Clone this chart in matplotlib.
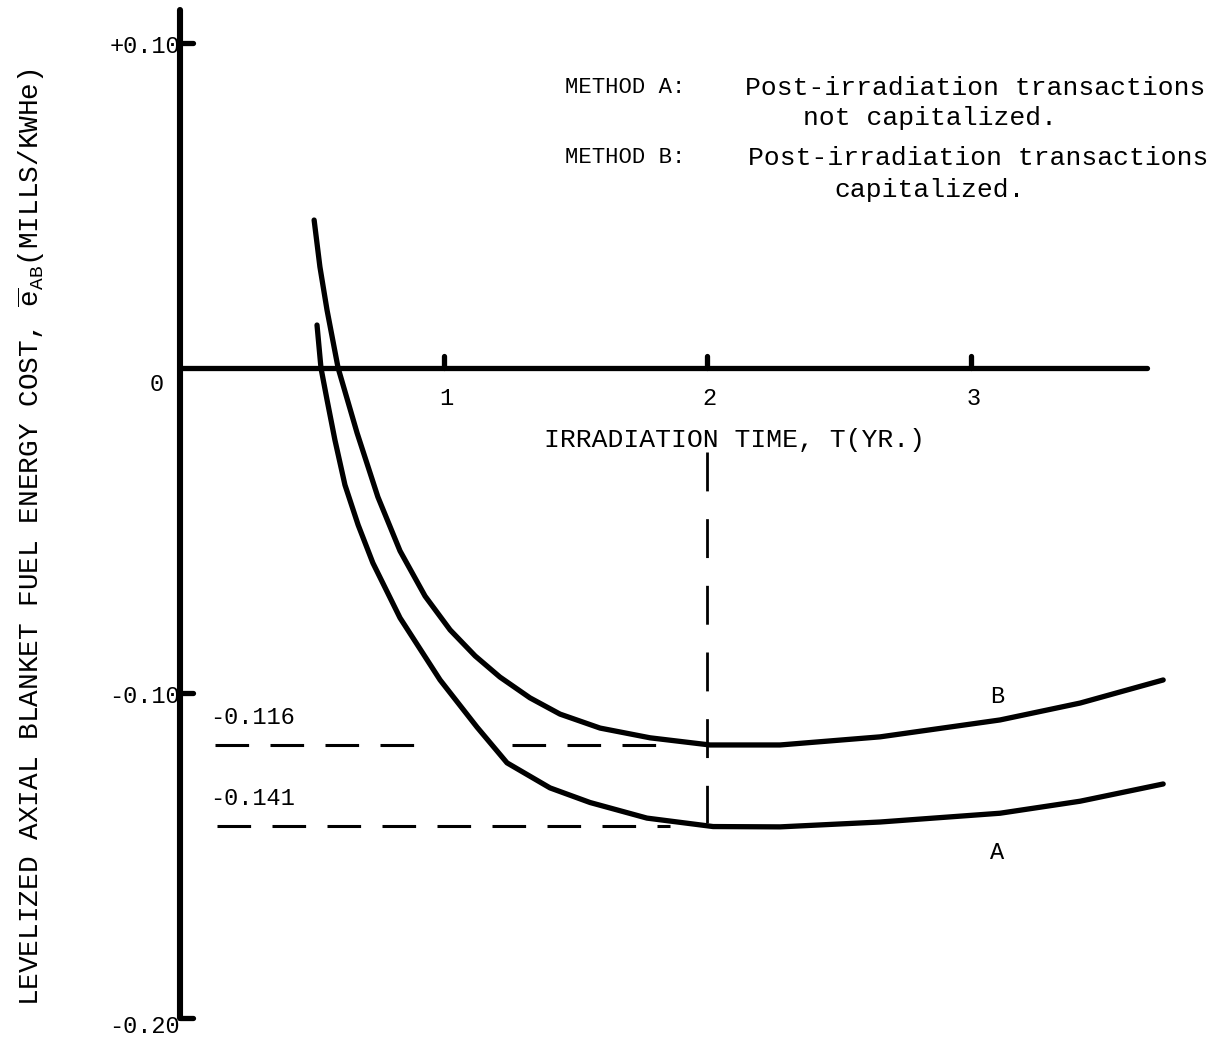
import numpy as np
import matplotlib.pyplot as plt

plt.rcParams['font.family'] = 'Liberation Mono'
plt.rcParams['mathtext.fontset'] = 'custom'
plt.rcParams['mathtext.rm'] = 'Liberation Mono'

# Method B: post-irradiation transactions capitalized
time_b = [0.509, 0.531, 0.558, 0.600, 0.672, 0.751, 0.835, 0.930, 1.025, 1.120, 1.214,
          1.328, 1.442, 1.594, 1.784, 2.011, 2.277, 2.657, 3.112, 3.416, 3.731]
cost_b = [0.0455, 0.0311, 0.0178, 0.0, -0.0200, -0.0397, -0.0563, -0.0702, -0.0806, -0.0886,
          -0.0951, -0.1015, -0.1065, -0.1108, -0.1138, -0.1160, -0.1160, -0.1135, -0.1083,
          -0.1031, -0.0960]

# Method A: post-irradiation transactions not capitalized
time_a = [0.520, 0.535, 0.558, 0.588, 0.626, 0.676, 0.732, 0.835, 0.987, 1.127, 1.241,
          1.404, 1.556, 1.772, 2.023, 2.277, 2.657, 3.112, 3.416, 3.731]
cost_a = [0.0132, 0.0, -0.0098, -0.0222, -0.0360, -0.0483, -0.0600, -0.0769, -0.0960, -0.1105,
          -0.1215, -0.1292, -0.1337, -0.1385, -0.1411, -0.1412, -0.1397, -0.1370, -0.1333,
          -0.1280]

# minimum values marked with dashed lines
min_values = [-0.116, -0.141]
min_labels = ['-0.116', '-0.141']
opt_time = 2.0

x_ticks = [1, 2, 3]
y_ticks = [0.10, -0.10, -0.20]
y_tick_labels = ['+0.10', '-0.10', '-0.20']

fig = plt.figure(figsize=(12.18, 10.44), dpi=100)
ax = fig.add_axes([0, 0, 1, 1])
ax.set_xlim(-0.683, 3.939)
ax.set_ylim(-0.208, 0.1132)
ax.axis('off')

k = dict(color='black', solid_capstyle='round')

# axes drawn by hand, like the original sketch
ax.plot([0, 0], [-0.2, 0.110], lw=4.4, **k)
ax.plot([0, 3.67], [0, 0], lw=3.8, **k)
for v in y_ticks:
    ax.plot([0, 0.05], [v, v], lw=3.8, **k)
for v in x_ticks:
    ax.plot([v, v], [0, 0.0038], lw=3.8, **k)

ax.plot(time_b, cost_b, lw=3.8, solid_joinstyle='round', **k)
ax.plot(time_a, cost_a, lw=3.8, solid_joinstyle='round', **k)

# dashed guide lines
d = dict(color='black', lw=2.2, linestyle=(0, (11, 7)))
ax.plot([0.133, 0.888], [min_values[0]] * 2, **d)
ax.plot([1.26, 1.82], [min_values[0]] * 2, **d)
ax.plot([0.14, 1.86], [min_values[1]] * 2, **d)
ax.plot([opt_time, opt_time], [-0.026, -0.140], color='black', lw=2.0, linestyle=(0, (14, 10)))

fs = 17
for v, lab in zip(y_ticks, y_tick_labels):
    off = -0.0025 if v < -0.15 else -0.0012
    ax.text(0.0, v + off, lab, ha='right', va='center', fontsize=fs)
ax.text(-0.09, -0.005, '0', ha='center', va='center', fontsize=fs)
for v in x_ticks:
    ax.text(v + 0.01, -0.0095, str(v), ha='center', va='center', fontsize=fs)

for v, lab in zip(min_values, min_labels):
    ax.text(0.115, v + 0.0085, lab, ha='left', va='center', fontsize=fs)

ax.text(3.1, -0.101, 'B', ha='center', va='center', fontsize=fs)
ax.text(3.1, -0.149, 'A', ha='center', va='center', fontsize=fs)

ax.text(2.106, -0.0222, 'IRRADIATION TIME, T(YR.)', ha='center', va='center', fontsize=19)

ax.text(-0.566, -0.052,
        r'LEVELIZED AXIAL BLANKET FUEL ENERGY COST, $\overline{\mathrm{e}}_{\mathrm{AB}}$(MILLS/KWHe)',
        rotation=90, ha='center', va='center', fontsize=20)

ax.text(1.46, 0.0862, 'METHOD A:', ha='left', va='center', fontsize=16)
ax.text(2.145, 0.0862, 'Post-irradiation transactions', ha='left', va='center', fontsize=19)
ax.text(2.846, 0.0769, 'not capitalized.', ha='center', va='center', fontsize=19)
ax.text(1.46, 0.0646, 'METHOD B:', ha='left', va='center', fontsize=16)
ax.text(2.155, 0.0646, 'Post-irradiation transactions', ha='left', va='center', fontsize=19)
ax.text(2.846, 0.0548, 'capitalized.', ha='center', va='center', fontsize=19)

fig.savefig('out.png', dpi=100)
